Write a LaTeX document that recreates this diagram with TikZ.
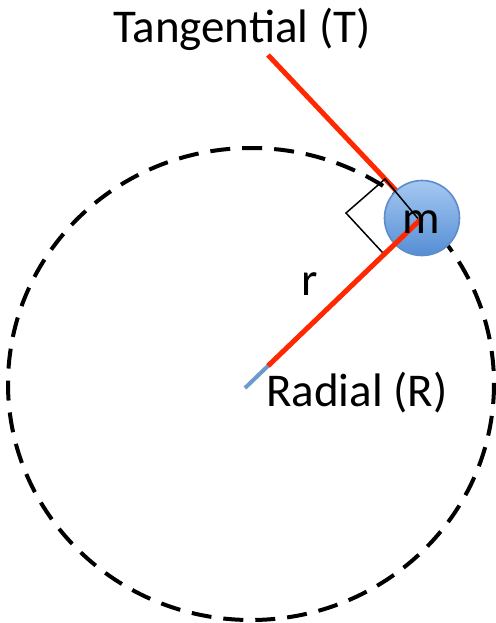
\documentclass[tikz,border=0pt]{standalone}
\usepackage{fontspec}
\setmainfont{Carlito}
\usetikzlibrary{calc}
\definecolor{forcered}{RGB}{255,40,0}
\definecolor{radblue}{RGB}{105,155,205}
\definecolor{balltop}{RGB}{165,200,242}
\definecolor{ballbot}{RGB}{85,142,212}
\definecolor{ballrim}{RGB}{95,140,200}
\tikzset{
  lbl/.style={font=\fontsize{23.5}{28}\selectfont, inner sep=0pt, anchor=base},
  force/.style={forcered, line width=2.5pt},
}
\begin{document}
\begin{tikzpicture}[x=0.5pt, y=-0.5pt]
  \useasboundingbox (0,0) rectangle (495,623);
  % path of the mass
  \draw[line width=2pt, dash pattern=on 10pt off 6pt] (251,384) ellipse [x radius=243, y radius=236];
  \coordinate (o) at (245,388);
  \coordinate (t) at (268,55);
  \node[circle, minimum size=37.5pt, inner sep=0pt] (ball) at (422,218) {};
  \draw[force] (t) -- (ball.center);
  \draw[radblue, line width=2pt] (o) -- (ball.center);
  \node[circle, minimum size=37.5pt, inner sep=0pt, draw=ballrim, line width=0.8pt, top color=balltop, bottom color=ballbot] at (ball) {};
  % right angle
  \draw[line width=0.75pt] (420,221) -- (383,253) -- (346,213) -- (385,179) -- cycle;
  \draw[force] ($(o)!0.13!(ball.center)$) -- (ball.center);
  \node[lbl] (tname) at (242,42) {Tangential (T)};
  \node[lbl] (rname) at (357,406) {Radial (R)};
  \node[lbl] (rlen) at (310,295) {r};
  \node[lbl] (mlbl) at (421,233) {m};
\end{tikzpicture}
\end{document}
